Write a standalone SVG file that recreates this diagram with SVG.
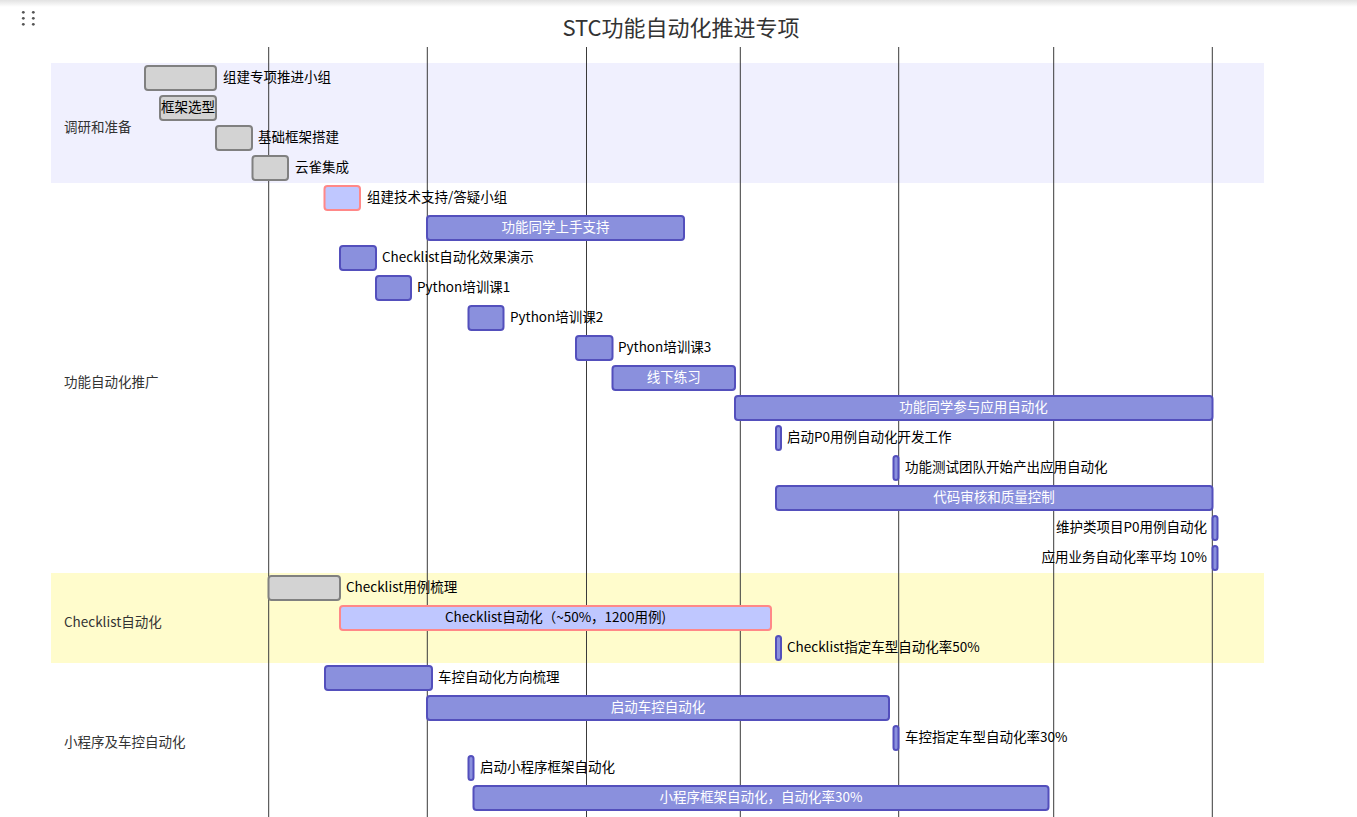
<svg xmlns="http://www.w3.org/2000/svg" width="1357" height="817" viewBox="0 0 1357 817">
<defs>
<linearGradient id="topShadow" x1="0" y1="0" x2="0" y2="1">
<stop offset="0" stop-color="#e2e2e2"/>
<stop offset="1" stop-color="#ffffff"/>
</linearGradient>
</defs>
<style>
text{font-family:"Noto Sans CJK SC","Noto Sans",sans-serif;font-size:13.5px;dominant-baseline:central}
.title{font-size:22px;fill:#333;text-anchor:middle}
.sec{fill:#333}
.grid line{stroke:#3a3a3a;stroke-width:1}
.t{stroke-width:2}
.task{fill:#8a90dd;stroke:#534fbc}
.done{fill:#d3d3d3;stroke:#808080}
.active{fill:#bfc7ff;stroke:#ff8888}
.out{fill:#000}
.outR{fill:#000;text-anchor:end}
.in{fill:#fff;text-anchor:middle}
.inD{fill:#000;text-anchor:middle}
</style>
<rect x="0" y="0" width="1357" height="817" fill="#fff"/>
<rect x="0" y="0" width="1357" height="7" fill="url(#topShadow)"/>
<g id="dragHandle" fill="#555">
<circle cx="23.3" cy="12.3" r="1.4"/><circle cx="33.3" cy="12.3" r="1.4"/>
<circle cx="23.3" cy="18.3" r="1.4"/><circle cx="33.3" cy="18.3" r="1.4"/>
<circle cx="23.3" cy="24.3" r="1.4"/><circle cx="33.3" cy="24.3" r="1.4"/>
</g>
<g id="sections">
<rect x="51" y="63" width="1213" height="120" fill="#f0f0fe"/>
<rect x="51" y="573" width="1213" height="90" fill="#fffccc"/>
</g>
<g id="grid" class="grid">
<line x1="268.7" y1="47" x2="268.7" y2="817"/>
<line x1="427.3" y1="47" x2="427.3" y2="817"/>
<line x1="586.5" y1="47" x2="586.5" y2="817"/>
<line x1="740.3" y1="47" x2="740.3" y2="817"/>
<line x1="898.7" y1="47" x2="898.7" y2="817"/>
<line x1="1053.7" y1="47" x2="1053.7" y2="817"/>
<line x1="1212.3" y1="47" x2="1212.3" y2="817"/>
</g>
<text class="title" x="681" y="25.5">STC功能自动化推进专项</text>
<g id="sectionTitles">
<text class="sec" x="64" y="125.5">调研和准备</text>
<text class="sec" x="64" y="380.5">功能自动化推广</text>
<text class="sec" x="64" y="620.5">Checklist自动化</text>
<text class="sec" x="64" y="740.5">小程序及车控自动化</text>
</g>
<g id="connectors"></g>
<g id="task0"><rect class="t done" x="145" y="66" width="71" height="24" rx="3"/><text class="out" x="223" y="76.3">组建专项推进小组</text></g>
<g id="task1"><rect class="t done" x="160" y="96" width="56" height="24" rx="3"/><text class="inD" x="188" y="106.3">框架选型</text></g>
<g id="task2"><rect class="t done" x="216" y="126" width="36" height="24" rx="3"/><text class="out" x="258" y="136.3">基础框架搭建</text></g>
<g id="task3"><rect class="t done" x="252.5" y="156" width="35.5" height="24" rx="3"/><text class="out" x="295" y="166.3">云雀集成</text></g>
<g id="task4"><rect class="t active" x="324.5" y="186" width="35.5" height="24" rx="3"/><text class="out" x="367" y="196.3">组建技术支持/答疑小组</text></g>
<g id="task5"><rect class="t task" x="427" y="216" width="257" height="24" rx="3"/><text class="in" x="555.5" y="226.3">功能同学上手支持</text></g>
<g id="task6"><rect class="t task" x="340" y="246" width="36" height="24" rx="3"/><text class="out" x="382" y="256.3">Checklist自动化效果演示</text></g>
<g id="task7"><rect class="t task" x="376" y="276" width="35" height="24" rx="3"/><text class="out" x="417" y="286.3">Python培训课1</text></g>
<g id="task8"><rect class="t task" x="468.5" y="306" width="35" height="24" rx="3"/><text class="out" x="510" y="316.3">Python培训课2</text></g>
<g id="task9"><rect class="t task" x="576" y="336" width="36.5" height="24" rx="3"/><text class="out" x="618" y="346.3">Python培训课3</text></g>
<g id="task10"><rect class="t task" x="612.5" y="366" width="122.5" height="24" rx="3"/><text class="in" x="673.7" y="376.3">线下练习</text></g>
<g id="task11"><rect class="t task" x="735" y="396" width="477.5" height="24" rx="3"/><text class="in" x="973.5" y="406.3">功能同学参与应用自动化</text></g>
<g id="task12"><rect class="t task" x="776" y="426" width="5" height="24" rx="2.5"/><text class="out" x="787" y="436.3">启动P0用例自动化开发工作</text></g>
<g id="task13"><rect class="t task" x="893.5" y="456" width="5" height="24" rx="2.5"/><text class="out" x="905" y="466.3">功能测试团队开始产出应用自动化</text></g>
<g id="task14"><rect class="t task" x="776" y="486" width="436.5" height="24" rx="3"/><text class="in" x="994" y="496.3">代码审核和质量控制</text></g>
<g id="task15"><rect class="t task" x="1212.5" y="516" width="5" height="24" rx="2.5"/><text class="outR" x="1207" y="526.3">维护类项目P0用例自动化</text></g>
<g id="task16"><rect class="t task" x="1212.5" y="546" width="5" height="24" rx="2.5"/><text class="outR" x="1207" y="556.3">应用业务自动化率平均 10%</text></g>
<g id="task17"><rect class="t done" x="268.5" y="576" width="71.5" height="24" rx="3"/><text class="out" x="346" y="586.3">Checklist用例梳理</text></g>
<g id="task18"><rect class="t active" x="340" y="606" width="431" height="24" rx="3"/><text class="inD" x="555.5" y="616.3">Checklist自动化（~50%，1200用例)</text></g>
<g id="task19"><rect class="t task" x="776" y="636" width="5" height="24" rx="2.5"/><text class="out" x="787" y="646.3">Checklist指定车型自动化率50%</text></g>
<g id="task20"><rect class="t task" x="325" y="666" width="107" height="24" rx="3"/><text class="out" x="438" y="676.3">车控自动化方向梳理</text></g>
<g id="task21"><rect class="t task" x="427" y="696" width="462" height="24" rx="3"/><text class="in" x="658" y="706.3">启动车控自动化</text></g>
<g id="task22"><rect class="t task" x="893.5" y="726" width="5" height="24" rx="2.5"/><text class="out" x="905" y="736.3">车控指定车型自动化率30%</text></g>
<g id="task23"><rect class="t task" x="468.5" y="756" width="5" height="24" rx="2.5"/><text class="out" x="480" y="766.3">启动小程序框架自动化</text></g>
<g id="task24"><rect class="t task" x="473.5" y="786" width="575" height="24" rx="3"/><text class="in" x="761" y="796.3">小程序框架自动化，自动化率30%</text></g>
</svg>
